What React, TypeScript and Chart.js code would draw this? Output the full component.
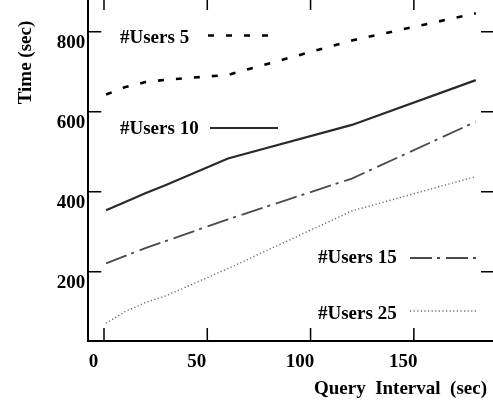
import React, { useEffect, useRef } from "react";
import { Chart, registerables } from "chart.js";

Chart.register(...registerables);

// ---- data ----
const queryIntervals = [1, 10, 20, 30, 60, 120, 180];
const users5 = [643, 661, 674, 680, 692, 778, 846];
const users10 = [354, 374, 396, 417, 483, 567, 679];
const users15 = [221, 239, 259, 277, 331, 433, 575];
const users25 = [71, 100, 123, 140, 208, 352, 438];
const seriesLabels = ["#Users 5", "#Users 10", "#Users 15", "#Users 25"];
const xTickValues = [0, 50, 100, 150];
const yTickValues = [200, 400, 600, 800];
const xTitle = "Query  Interval  (sec)";
const yTitle = "Time (sec)";

const FONT = '"Liberation Serif", "Times New Roman", serif';
const SHIFT_Y = 4; // canvas is shifted up by this many px

const styles = [
  { color: "#000000", width: 2.6, dash: [6, 12] },
  { color: "#2a2a2a", width: 2.2, dash: [] as number[] },
  { color: "#4a4a4a", width: 1.8, dash: [22, 5, 3, 6] },
  { color: "#6a6a6a", width: 1.4, dash: [1.2, 2.4] },
];

// legend placement (window px)
const legendPlacement = [
  { tx: 120, ty: 42.5, x1: 208, x2: 274, y: 35.5 },
  { tx: 120, ty: 133.5, x1: 210, x2: 278, y: 128 },
  { tx: 318, ty: 262.5, x1: 410, x2: 477, y: 258 },
  { tx: 318, ty: 318.5, x1: 410, x2: 477, y: 311 },
];

const decorPlugin = {
  id: "decor",
  afterDatasetsDraw(chart: any) {
    const { ctx, chartArea } = chart;
    const xs = chart.scales.x;
    const ys = chart.scales.y;
    const TL = 13;
    ctx.save();
    ctx.strokeStyle = "#000";
    ctx.lineWidth = 1.5;
    ctx.setLineDash([]);
    ctx.beginPath();
    xTickValues.forEach((v) => {
      const p = xs.getPixelForValue(v);
      ctx.moveTo(p, chartArea.bottom);
      ctx.lineTo(p, chartArea.bottom - TL);
      ctx.moveTo(p, chartArea.top);
      ctx.lineTo(p, chartArea.top + TL);
    });
    yTickValues.forEach((v) => {
      const p = ys.getPixelForValue(v);
      ctx.moveTo(chartArea.left, p);
      ctx.lineTo(chartArea.left + TL, p);
      ctx.moveTo(chartArea.right, p);
      ctx.lineTo(chartArea.right - TL, p);
    });
    ctx.stroke();

    // legend entries
    ctx.font = `bold 19px ${FONT}`;
    ctx.fillStyle = "#000";
    ctx.textAlign = "left";
    ctx.textBaseline = "alphabetic";
    legendPlacement.forEach((lp, i) => {
      ctx.fillText(seriesLabels[i], lp.tx, lp.ty + SHIFT_Y);
      const st = styles[i];
      ctx.strokeStyle = st.color;
      ctx.lineWidth = st.width;
      ctx.setLineDash(st.dash);
      ctx.beginPath();
      ctx.moveTo(lp.x1, lp.y + SHIFT_Y);
      ctx.lineTo(lp.x2, lp.y + SHIFT_Y);
      ctx.stroke();
    });
    ctx.setLineDash([]);

    // axis titles
    ctx.fillStyle = "#000";
    ctx.textAlign = "right";
    ctx.fillText(xTitle, 487, 394 + SHIFT_Y);
    ctx.translate(30.5, 62.5 + SHIFT_Y);
    ctx.rotate(-Math.PI / 2);
    ctx.textAlign = "center";
    ctx.fillText(yTitle, 0, 0);
    ctx.restore();
  },
};

export default function App() {
  const ref = useRef<HTMLCanvasElement | null>(null);
  useEffect(() => {
    if (!ref.current) return;
    const series = [users5, users10, users15, users25];
    const chart = new Chart(ref.current, {
      type: "line",
      data: {
        datasets: series.map((vals, i) => ({
          label: seriesLabels[i],
          data: queryIntervals.map((x, j) => ({ x, y: vals[j] })),
          borderColor: styles[i].color,
          borderWidth: styles[i].width,
          borderDash: styles[i].dash,
          pointRadius: 0,
          fill: false,
          tension: 0,
        })),
      },
      options: {
        animation: false,
        responsive: false,
        maintainAspectRatio: false,
        layout: { padding: { top: 1, right: 6, left: 0, bottom: 0 } },
        plugins: { legend: { display: false }, tooltip: { enabled: false } },
        scales: {
          x: {
            type: "linear",
            min: -7.6,
            max: 188.8,
            afterBuildTicks: (s: any) => {
              s.ticks = xTickValues.map((v) => ({ value: v }));
            },
            afterFit: (s: any) => {
              s.height = 67;
              s.paddingLeft = 0;
              s.paddingRight = 0;
            },
            grid: { display: false, drawTicks: false },
            border: { display: true, color: "#000", width: 2 },
            ticks: {
              color: "#000",
              font: { family: FONT, size: 19, weight: "bold" },
              padding: 10,
              labelOffset: -10.5,
              maxRotation: 0,
              autoSkip: false,
            },
          },
          y: {
            type: "linear",
            min: 27,
            max: 886.7,
            afterBuildTicks: (s: any) => {
              s.ticks = yTickValues.map((v) => ({ value: v }));
            },
            afterFit: (s: any) => {
              s.width = 88.3;
              s.paddingTop = 0;
              s.paddingBottom = 0;
            },
            grid: { display: false, drawTicks: false },
            border: { display: true, color: "#000", width: 2 },
            ticks: {
              color: "#000",
              font: { family: FONT, size: 19, weight: "bold" },
              padding: 3,
              labelOffset: 11,
              autoSkip: false,
            },
          },
        },
      },
      plugins: [decorPlugin],
    } as any);
    return () => chart.destroy();
  }, []);

  return (
    <div
      style={{
        position: "fixed",
        left: 0,
        top: 0,
        width: 493,
        height: 406,
        overflow: "hidden",
        background: "#fff",
      }}
    >
      <canvas
        ref={ref}
        width={500}
        height={412}
        style={{ position: "absolute", left: 0, top: -SHIFT_Y, width: 500, height: 412 }}
      />
    </div>
  );
}
